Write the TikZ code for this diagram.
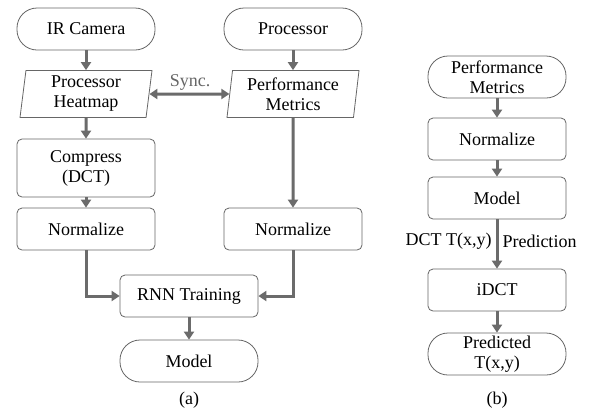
\documentclass[tikz,border=0pt]{standalone}
\usepackage{fontspec}
\setmainfont{Liberation Serif}
\newfontfamily\timesfont{Liberation Serif}
\usetikzlibrary{shapes.geometric,arrows.meta}
\begin{document}
\begin{tikzpicture}[x=1pt,y=-1pt,
  font=\timesfont\fontsize{18}{20}\selectfont,
  box/.style={draw=black!60, line width=0.8pt, rounded corners=5pt, minimum width=138pt, minimum height=42pt, align=center, inner sep=1pt},
  term/.style={draw=black!60, line width=0.8pt, rounded corners=20pt, minimum width=138pt, minimum height=42pt, align=center, inner sep=1pt},
  para/.style={draw=black!60, line width=0.8pt, trapezium, trapezium left angle=81, trapezium right angle=99, trapezium stretches body=true, minimum width=132pt, minimum height=47pt, align=center, inner sep=1pt},
  arr/.style={draw=black!58, line width=3pt, -{Triangle[length=8pt,width=10pt]}},
  darr/.style={draw=black!58, line width=3pt, {Triangle[length=8pt,width=10pt]}-{Triangle[length=8pt,width=10pt]}},
  lbl/.style={inner sep=1pt}
]
\path[use as bounding box, fill=white] (0,0) rectangle (591,413);
% (a)
\node[term] (ir) at (86,29) {IR Camera};
\node[term] (proc) at (293,29) {Processor};
\node[para] (heat) at (86,94) {Processor\\Heatmap};
\node[para] (perf) at (293,94) {Performance\\Metrics};
\node[box, minimum height=58pt] (comp) at (86,168) {Compress\\(DCT)};
\node[box] (norml) at (86,229) {Normalize};
\node[box] (normr) at (293,229) {Normalize};
\node[box] (rnn) at (189,296) {RNN Training};
\node[term] (model) at (189,361) {Model};
\node[lbl] (sync) at (190,82) {\color{black!60}Sync.};
\node[lbl] (capa) at (189,400) {(a)};
\draw[arr] (ir) -- (heat);
\draw[arr] (heat) -- (comp);
\draw[arr] (comp) -- (norml);
\draw[arr] (proc) -- (perf);
\draw[arr] (perf) -- (normr);
\draw[darr] (heat.east) -- (perf.west);
\draw[arr] (norml.south) |- (rnn.west);
\draw[arr] (normr.south) |- (rnn.east);
\draw[arr] (rnn) -- (model);
% (b)
\node[term] (bperf) at (497,77) {Performance\\Metrics};
\node[box] (bnorm) at (497,139) {Normalize};
\node[box] (bmodel) at (497,198) {Model};
\node[box] (bidct) at (497,290) {iDCT};
\node[term] (bpred) at (497,354) {Predicted\\T(x,y)};
\node[lbl] (capb) at (497,400) {(b)};
\draw[arr] (bperf) -- (bnorm);
\draw[arr] (bnorm) -- (bmodel);
\draw[arr] (bmodel) -- node[pos=0.45, left=3pt, lbl] {DCT T(x,y)} node[pos=0.45, right=3pt, lbl] {Prediction} (bidct);
\draw[arr] (bidct) -- (bpred);
\end{tikzpicture}
\end{document}
